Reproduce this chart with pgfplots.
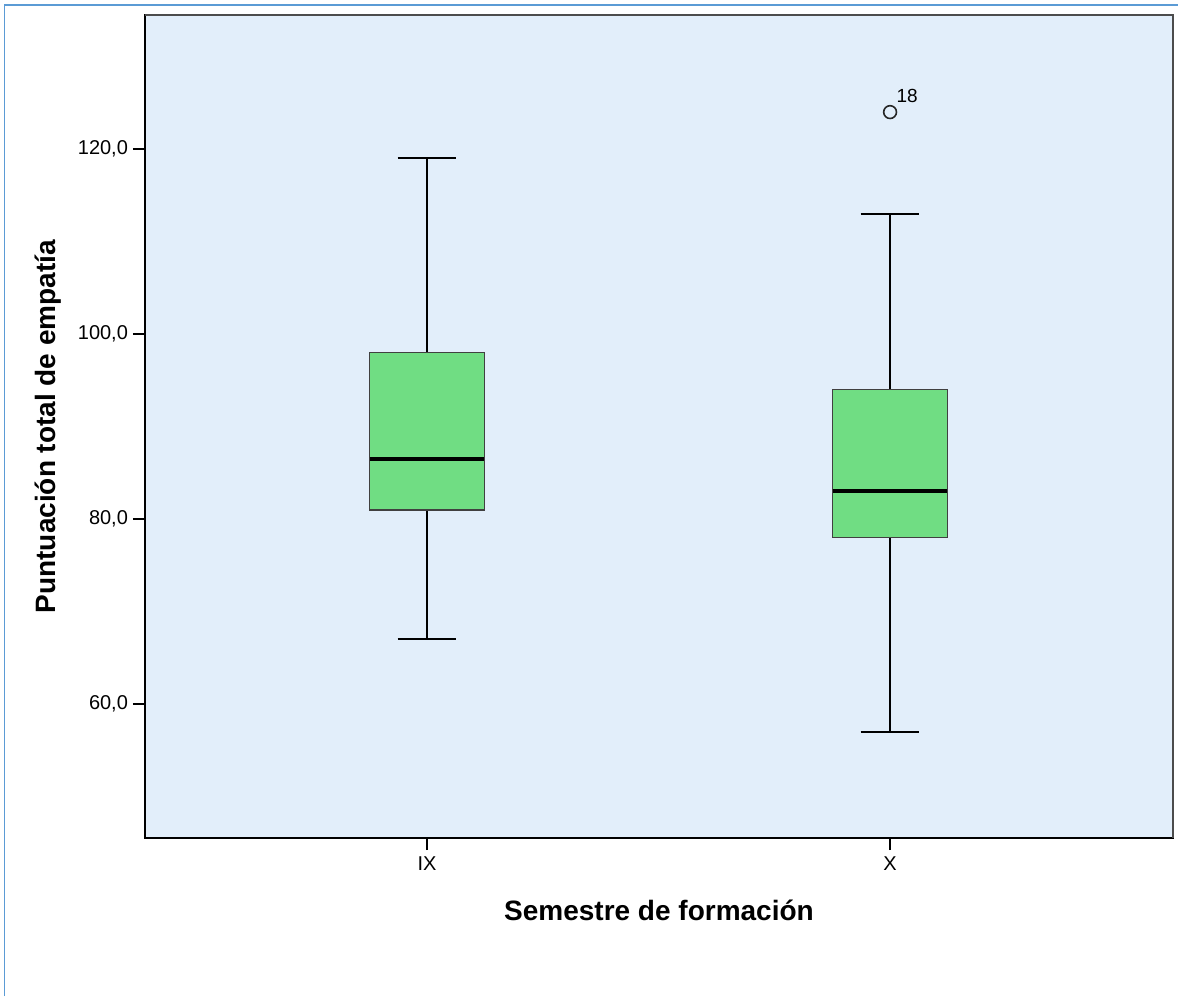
\documentclass[border=0pt]{standalone}
\usepackage{fontspec}
\setmainfont{Liberation Sans}
\usepackage{pgfplots}
\pgfplotsset{compat=1.18}
\definecolor{bgblue}{RGB}{226,238,250}
\definecolor{boxgreen}{RGB}{112,221,131}
\definecolor{frameblue}{RGB}{91,155,213}
\begin{document}
\begin{tikzpicture}
\useasboundingbox (0pt,0pt) rectangle (589pt,498pt);
\draw[frameblue, line width=0.8pt] (2.2pt,0pt) -- (2.2pt,495.6pt) -- (589pt,495.6pt);
\begin{axis}[
  at={(72.5pt,79pt)}, anchor=south west,
  scale only axis, width=514pt, height=411.5pt,
  xmin=0.391, xmax=2.611, ymin=45.5, ymax=134.5,
  axis background/.style={fill=bgblue},
  axis line style={black, line width=0.7pt},
  xtick={1,2}, xticklabels={IX,X},
  ytick={60,80,100,120},
  yticklabels={60{,}0,80{,}0,100{,}0,120{,}0},
  tick align=outside, xtick pos=bottom, ytick pos=left,
  major tick length=6pt,
  tick style={black, line width=0.8pt},
  ticklabel style={font=\fontsize{10}{12}\selectfont},
  yticklabel style={xshift=1pt},
  xlabel={\textbf{Semestre de formación}},
  ylabel={\textbf{Puntuación total de empatía}},
  xlabel style={font=\fontsize{14}{16}\selectfont, at={(axis description cs:0.5,-0.0875)}, anchor=center},
  ylabel style={font=\fontsize{14}{16}\selectfont, at={(axis description cs:-0.0944,0.5)}, anchor=center},
  clip=false,
]
% IX: whiskers 67 / 119, quartiles 81 / 98, median 86.5
\addplot[black, line width=0.9pt, mark=none] coordinates {(1,98) (1,119)};
\addplot[black, line width=0.9pt, mark=none] coordinates {(1,81) (1,67)};
\addplot[black, line width=0.9pt, mark=none] coordinates {(0.9365,119) (1.0635,119)};
\addplot[black, line width=0.9pt, mark=none] coordinates {(0.9365,67) (1.0635,67)};
\addplot[draw=black!75, line width=0.8pt, fill=boxgreen, mark=none] coordinates {(0.876,81) (1.124,81) (1.124,98) (0.876,98)} -- cycle;
\addplot[black, line width=2pt, mark=none] coordinates {(0.876,86.5) (1.124,86.5)};
% X: whiskers 57 / 113, quartiles 78 / 94, median 83
\addplot[black, line width=0.9pt, mark=none] coordinates {(2,94) (2,113)};
\addplot[black, line width=0.9pt, mark=none] coordinates {(2,78) (2,57)};
\addplot[black, line width=0.9pt, mark=none] coordinates {(1.9365,113) (2.0635,113)};
\addplot[black, line width=0.9pt, mark=none] coordinates {(1.9365,57) (2.0635,57)};
\addplot[draw=black!75, line width=0.8pt, fill=boxgreen, mark=none] coordinates {(1.876,78) (2.124,78) (2.124,94) (1.876,94)} -- cycle;
\addplot[black, line width=2pt, mark=none] coordinates {(1.876,83) (2.124,83)};
% outlier
\addplot[only marks, mark=o, mark size=3.2pt, black!85, line width=0.8pt,
  point meta=explicit symbolic, nodes near coords,
  nodes near coords style={anchor=south west, text=black, font=\fontsize{9.5}{11}\selectfont, xshift=-0.5pt, yshift=1pt}]
  coordinates {(2,124) [18]};
\draw[gray!60!black, line width=1pt] (rel axis cs:0,1) -- (rel axis cs:1,1) -- (rel axis cs:1,0);
\end{axis}
\end{tikzpicture}
\end{document}
